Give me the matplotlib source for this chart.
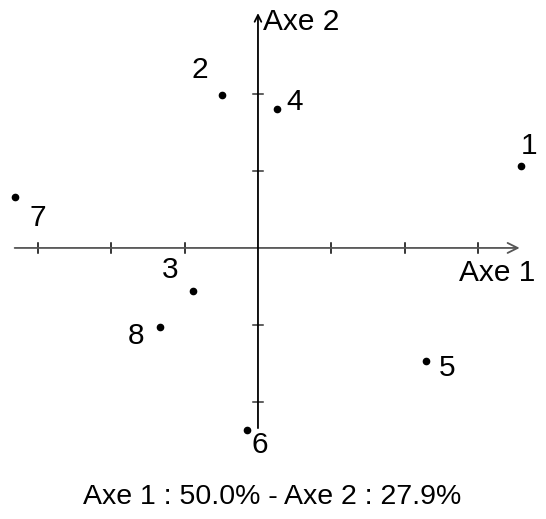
import matplotlib
matplotlib.use("Agg")
import matplotlib.pyplot as plt

plt.rcParams['font.family'] = ['Liberation Sans', 'DejaVu Sans']

# Factor map coordinates of the eight individuals
labels = ["1", "2", "3", "4", "5", "6", "7", "8"]
axe1 = [3.59, -0.49, -0.89, 0.26, 2.29, -0.15, -3.32, -1.34]
axe2 = [1.07, 1.99, -0.56, 1.80, -1.47, -2.36, 0.66, -1.03]
inertia = [50.0, 27.9]
xticks = [-3, -2, -1, 1, 2, 3]
yticks = [-2, -1, 1, 2]

# label offsets in points (dx, dy)
offsets = [(6, 14), (-16, 18), (-16, 15), (13, 5), (15, -5), (9, -11), (17, -15), (-17, -6)]

fig = plt.figure(figsize=(5.46, 5.19), dpi=100)
ax = fig.add_axes([0, 0, 1, 1])
ax.set_xlim(-3.52, 3.93)
ax.set_ylim(-3.52, 3.22)
ax.axis("off")

fs = 21.5

# horizontal axis with arrow
ax.annotate("", xy=(3.57, 0), xytext=(-3.32, 0),
            arrowprops=dict(arrowstyle="->", color="#555555", lw=1.3,
                            shrinkA=0, shrinkB=0, mutation_scale=18))
# vertical axis with arrow
ax.annotate("", xy=(0, 3.05), xytext=(0, -2.34),
            arrowprops=dict(arrowstyle="->", color="black", lw=1.3,
                            shrinkA=0, shrinkB=0, mutation_scale=12))

tx = 0.068
ty = 0.065
for t in xticks:
    ax.plot([t, t], [-ty, ty], color="black", lw=1.1)
for t in yticks:
    ax.plot([-tx, tx], [t, t], color="#333333", lw=1.1)

ax.text(0.07, 2.93, "Axe 2", fontsize=fs, ha="left", va="center")
ax.text(3.26, -0.32, "Axe 1", fontsize=fs, ha="center", va="center")

ax.plot(axe1, axe2, "o", color="black", markersize=4.5, linestyle="none")
for lab, x, y, (dx, dy) in zip(labels, axe1, axe2, offsets):
    ax.annotate(lab, (x, y), xytext=(dx, dy), textcoords="offset points",
                fontsize=fs, ha="center", va="center")

fig.text(272 / 546, 1 - 497 / 519,
         f"Axe 1 : {inertia[0]:.1f}% - Axe 2 : {inertia[1]:.1f}%",
         fontsize=20.5, ha="center", va="center")

fig.savefig("out.png", dpi=100)
